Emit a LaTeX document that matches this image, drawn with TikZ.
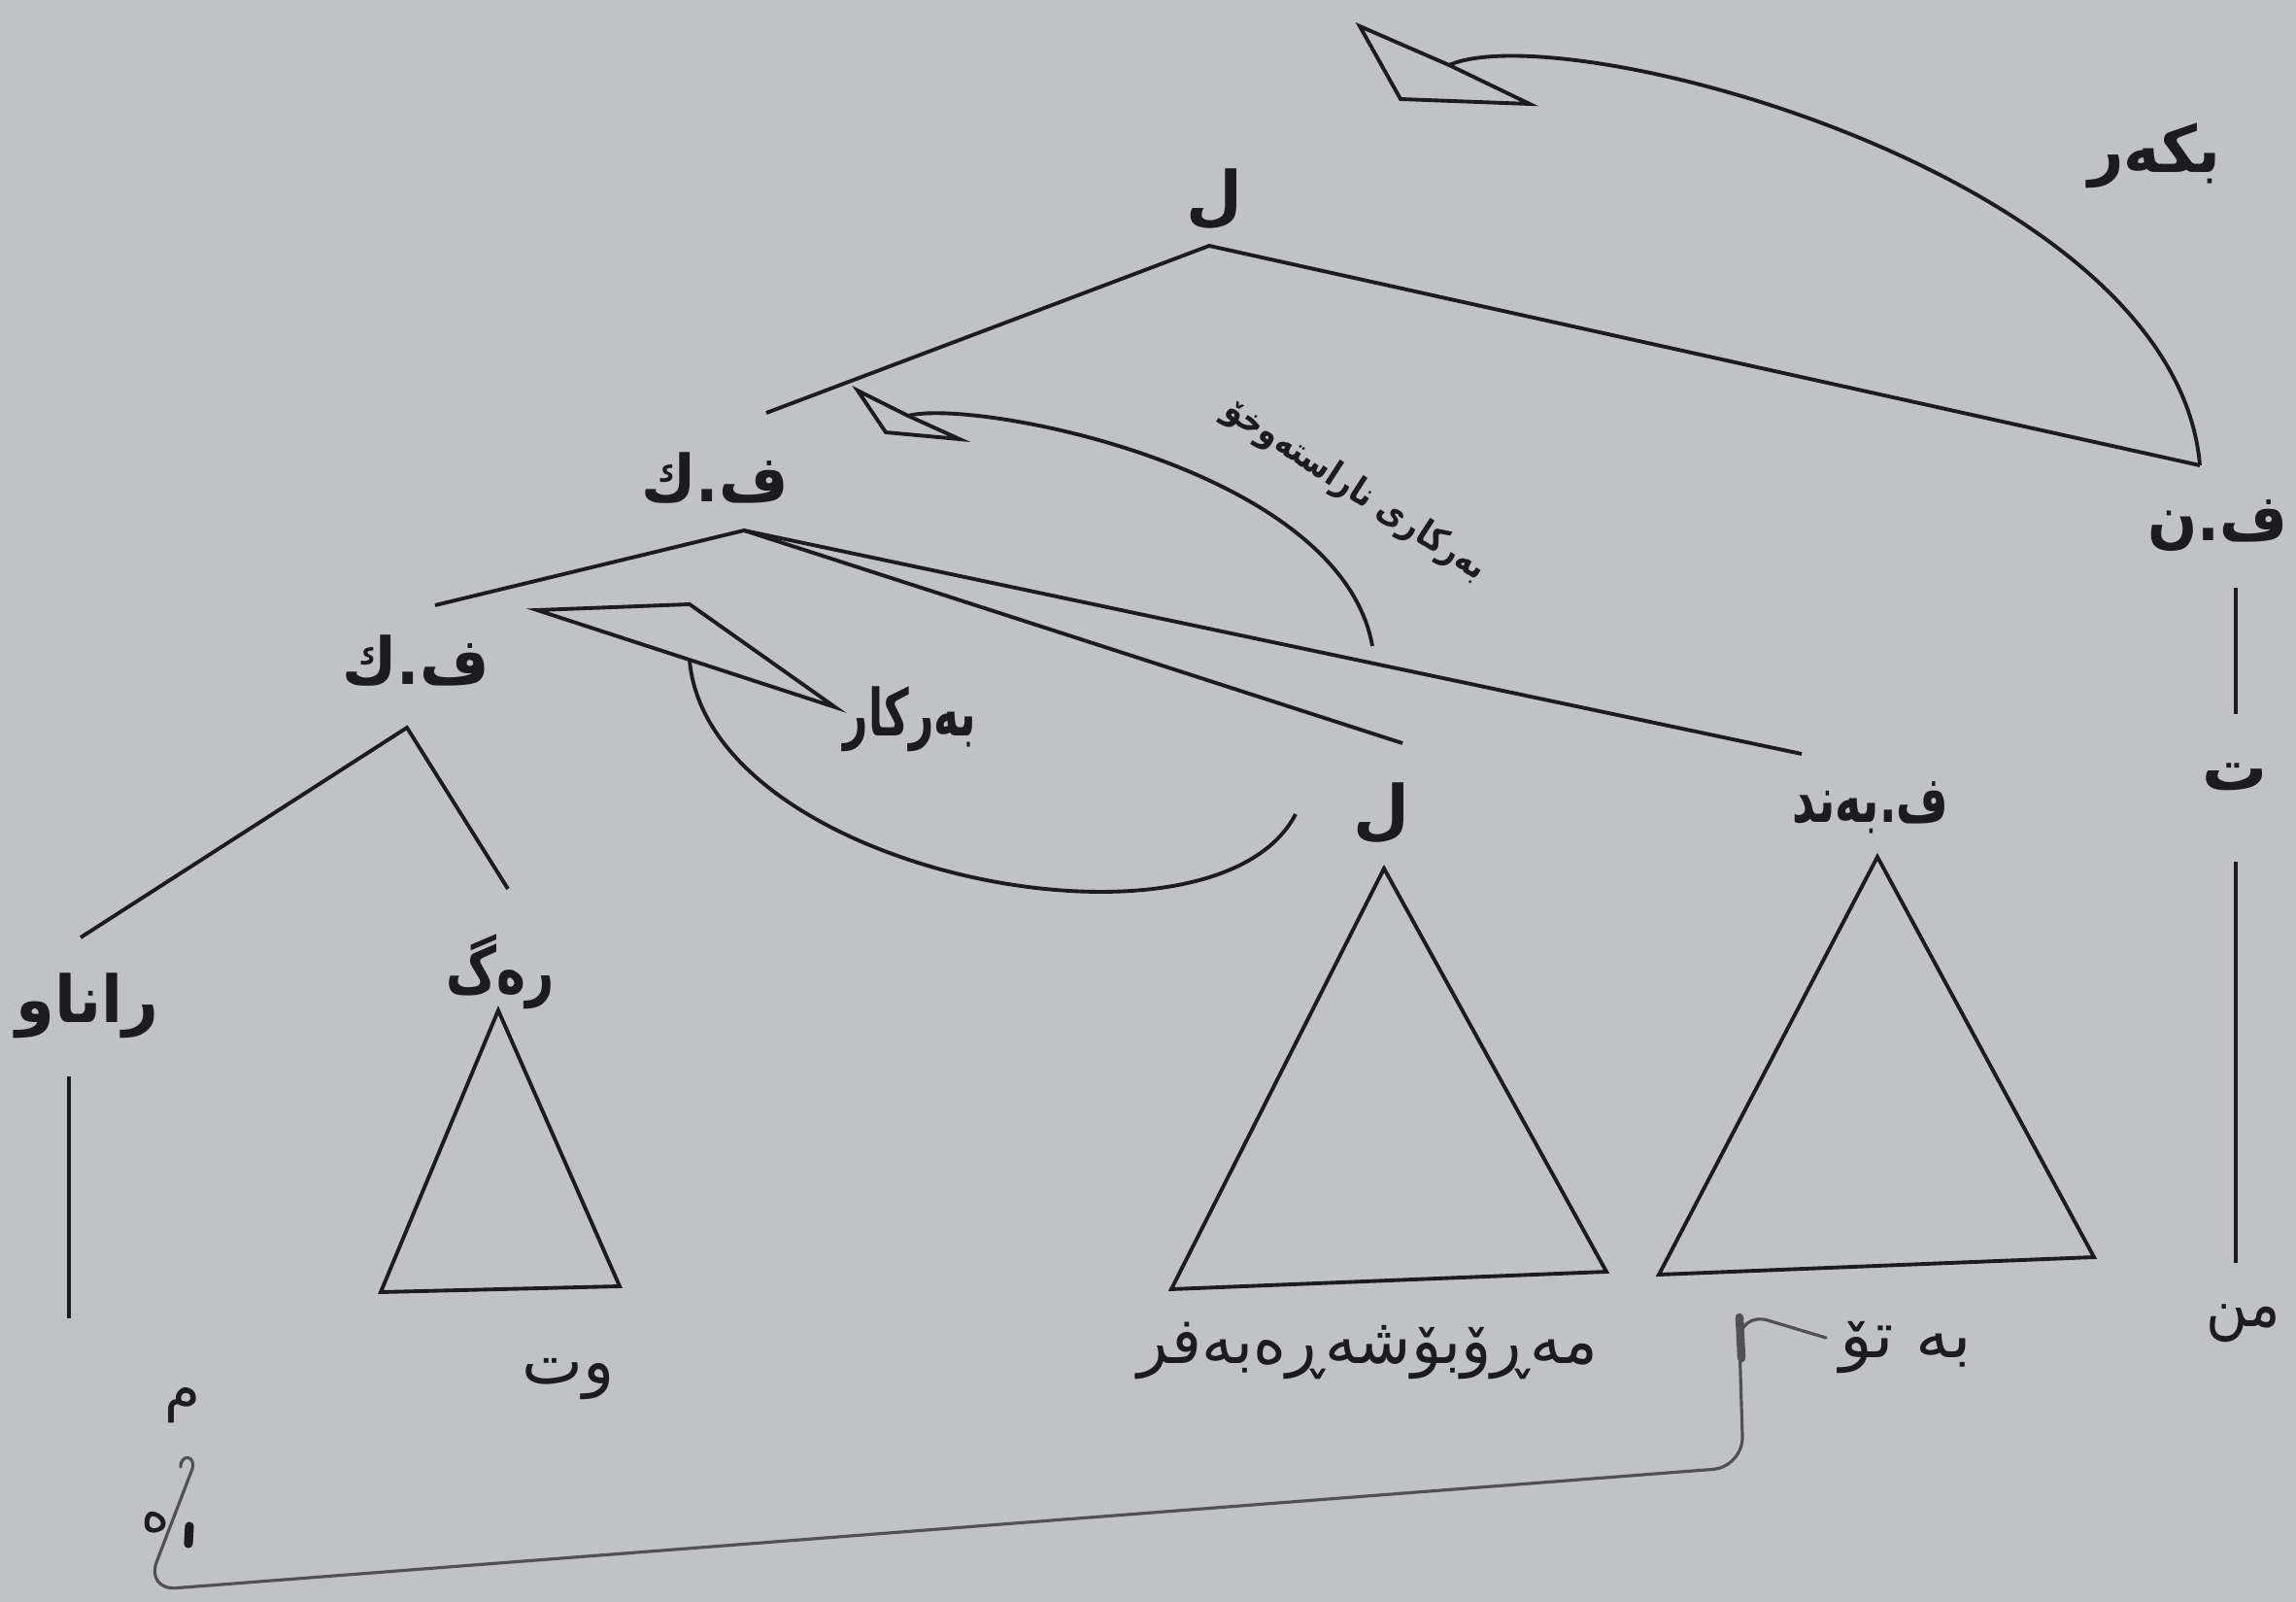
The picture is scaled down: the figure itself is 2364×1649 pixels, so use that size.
\documentclass[tikz,border=0pt]{standalone}
\usepackage{fontspec}
\newfontfamily\ar[Script=Arabic]{DejaVu Sans}
\TeXXeTstate=1
\definecolor{paper}{RGB}{192,194,198}
\definecolor{ink}{RGB}{28,28,30}
\definecolor{pencil}{RGB}{80,80,86}
\newcommand{\RLtext}[1]{\beginR #1\endR}
\begin{document}
\begin{tikzpicture}[x=0.01cm,y=-0.01cm,
  lbl/.style={inner sep=0pt,text=ink,font=\ar\bfseries\fontsize{19}{23}\selectfont},
  word/.style={inner sep=0pt,text=ink,font=\ar\fontsize{19}{23}\selectfont},
  hand/.style={inner sep=0pt,text=ink,font=\ar\bfseries\fontsize{10.5}{13}\selectfont},
  edge/.style={draw=ink,line width=1.1pt},
  tri/.style={draw=ink,line width=1.1pt,line join=miter},
  move/.style={draw=ink,line width=1.1pt},
  pen/.style={draw=pencil,line width=0.9pt,line join=round,line cap=round}]
\useasboundingbox (0,0) rectangle (2364,1649);
\fill[paper] (0,0) rectangle (2364,1649);

% labels
\node[lbl] (L1) at (1250,205) {\RLtext{ل}};
\node[lbl,xscale=0.95] (bkr) at (2218,160) {\RLtext{بکەر}};
\node[lbl,xscale=0.92] (FK1) at (736,492) {\RLtext{ف.ك}};
\node[lbl,xscale=0.9] (FN) at (2283,541) {\RLtext{ف.ن}};
\node[lbl,xscale=0.92] (FK2) at (428,680) {\RLtext{ف.ك}};
\node[lbl,xscale=0.96] (ranaw) at (90,1035) {\RLtext{راناو}};
\node[lbl,xscale=0.76] (reg) at (515,1000) {\RLtext{رەگ}};
\node[lbl,xscale=0.66] (berkar) at (937,740) {\RLtext{بەرکار}};
\node[lbl] (L2) at (1422,837) {\RLtext{ل}};
\node[lbl,xscale=0.69] (FB) at (1926,831) {\RLtext{ف.بەند}};
\node[lbl] (T) at (2301,800) {\RLtext{ت}};
\node[word] (wt) at (585,1420) {\RLtext{وت}};
\node[word,xscale=0.97] (mero) at (1408,1390) {\RLtext{مەڕۆبۆشەڕەبەفر}};
\node[word,xscale=1.05] (beto) at (1962,1387) {\RLtext{بە تۆ}};
\node[word,xscale=0.88] (min) at (2310,1362) {\RLtext{من}};
\node[word,font=\ar\fontsize{17}{20}\selectfont] (mm) at (188,1447) {\RLtext{م}};
\node[word,font=\ar\fontsize{16}{19}\selectfont] (he) at (160,1567) {\RLtext{ە}};
\node[hand,rotate=-33,xscale=0.85] (indirect) at (1395,505) {\RLtext{بەرکاری ناراستەوخۆ}};

% tree coordinates
\coordinate (a0) at (1245,253);
\coordinate (a0l) at (789,425);
\coordinate (a0r) at (2265,479);
\coordinate (a1) at (766,546);
\coordinate (a1l) at (448,623);
\coordinate (a1m) at (1444,765);
\coordinate (a1r) at (1855,776);
\coordinate (a2) at (419,749);
\coordinate (a2l) at (83,965);
\coordinate (a2r) at (523,915);
\coordinate (rv1) at (71,1108);
\coordinate (rv2) at (71,1357);
\coordinate (fn1) at (2302,605);
\coordinate (fn2) at (2302,735);
\coordinate (t1) at (2302,887);
\coordinate (t2) at (2302,1300);

\draw[edge] (a0l) -- (a0) -- (a0r);
\draw[edge] (a1l) -- (a1) -- (a1m);
\draw[edge] (a1) -- (a1r);
\draw[edge] (a2l) -- (a2) -- (a2r);
\draw[edge] (rv1) -- (rv2);
\draw[edge] (fn1) -- (fn2);
\draw[edge] (t1) -- (t2);

% triangles
\coordinate (rg1) at (513,1040); \coordinate (rg2) at (392,1330); \coordinate (rg3) at (638,1324);
\coordinate (lt1) at (1425,894); \coordinate (lt2) at (1206,1327); \coordinate (lt3) at (1654,1309);
\coordinate (fb1) at (1933,882); \coordinate (fb2) at (1708,1312); \coordinate (fb3) at (2156,1294);
\draw[tri] (rg1) -- (rg2) -- (rg3) -- cycle;
\draw[tri] (lt1) -- (lt2) -- (lt3) -- cycle;
\draw[tri] (fb1) -- (fb2) -- (fb3) -- cycle;

% movement: subject
\coordinate (h1tip) at (1400,27); \coordinate (h1n) at (1492,67);
\coordinate (h1br) at (1575,107); \coordinate (h1bl) at (1442,102);
\draw[tri] (h1tip) -- (h1n) -- (h1br) -- (h1bl) -- cycle;
\draw[move] (h1n) .. controls (1610,15) and (2240,180) .. (a0r);

% movement: indirect object
\coordinate (h2tip) at (883,402); \coordinate (h2n) at (935,428);
\coordinate (h2br) at (988,452); \coordinate (h2bl) at (912,445);
\coordinate (c2e) at (1413,665);
\draw[tri] (h2tip) -- (h2n) -- (h2br) -- (h2bl) -- cycle;
\draw[move] (h2n) .. controls (1000,410) and (1380,480) .. (c2e);

% movement: object
\coordinate (h3a) at (553,628); \coordinate (h3b) at (710,622); \coordinate (h3c) at (860,728);
\coordinate (h3m) at (710,680); \coordinate (c3e) at (1334,838);
\draw[tri] (h3a) -- (h3b) -- (h3c) -- cycle;
\draw[move] (h3m) .. controls (730,900) and (1250,1000) .. (c3e);

% hand-drawn arrow at the bottom
\coordinate (p1) at (1880,1377); \coordinate (p2) at (1790,1350);
\coordinate (p3) at (1795,1510); \coordinate (p4) at (150,1637);
\coordinate (p5) at (198,1512);
\draw[pen,rounded corners=9] (p1) -- (p2) -- (p3) -- (p4) -- (p5);
\draw[pen] (p5) .. controls (202,1498) and (186,1496) .. (186,1510);
\draw[pencil,line width=2.4pt,line cap=round] (1791,1356) -- (1793,1398);
\draw[ink,line width=2.6pt,line cap=round] (195,1571) -- (194,1589);
\end{tikzpicture}
\end{document}
